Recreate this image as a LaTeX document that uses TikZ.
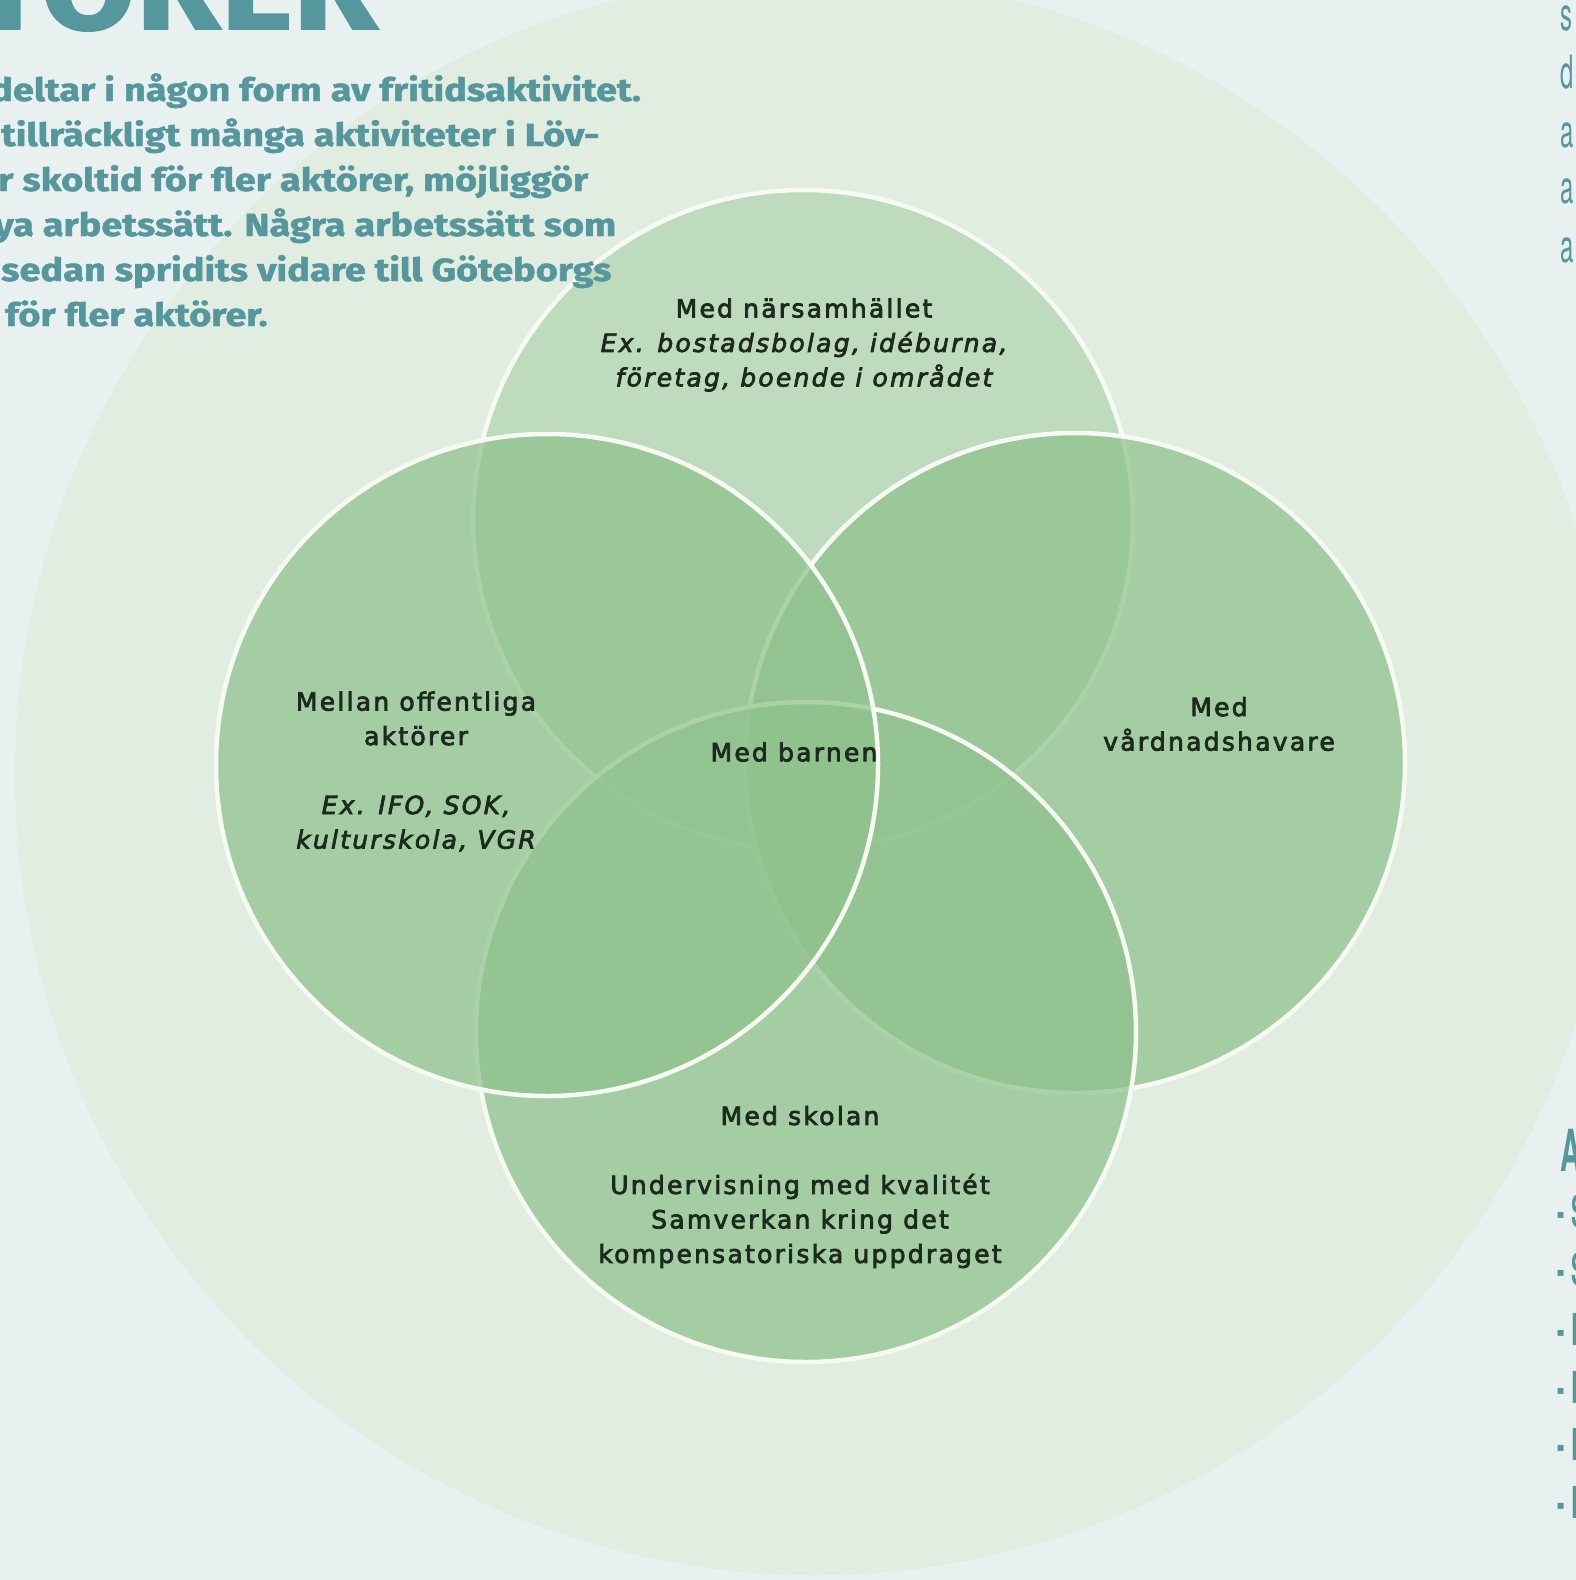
\documentclass[tikz,border=0pt]{standalone}
\usepackage{fontspec}
\setmainfont{DejaVu Sans}
\newfontfamily\circfont[LetterSpace=9,FakeBold=3,ItalicFeatures={FakeBold=3}]{DejaVu Sans}
\newfontfamily\headfont[BoldFeatures={FakeBold=1.4}]{Fira Sans}
\newfontfamily\narrowfont{TeX Gyre Heros}
\definecolor{bgc}{HTML}{E8F0F0}
\definecolor{outerc}{HTML}{E2EDE1}
\definecolor{topc}{HTML}{BFDBBD}
\definecolor{greenc}{HTML}{8FC28D}
\definecolor{edgec}{HTML}{F6FAF3}
\definecolor{txtc}{HTML}{1C2A1E}
\definecolor{tealc}{HTML}{55979C}
\newcommand{\widetext}[1]{\scalebox{1.185}[1]{#1}}
\tikzset{
  vcircle/.style={fill=greenc, fill opacity=0.73, draw=edgec, draw opacity=1, line width=4.5pt},
  ctext/.style={font=\circfont\fontsize{25}{34.5}\selectfont, text=txtc, align=center, inner sep=0pt},
  headline/.style={font=\headfont\bfseries\fontsize{32}{45}\selectfont, text=tealc, anchor=base west, inner sep=0pt},
  edgeletter/.style={text=tealc, anchor=base west, inner sep=0pt},
}
\begin{document}
\begin{tikzpicture}[x=1pt,y=-1pt]
\useasboundingbox (0,0) rectangle (1576,1580);
\clip (0,0) rectangle (1576,1580);
\fill[bgc] (0,0) rectangle (1576,1580);
\fill[outerc] (815,775) circle (800);
% circles, bottom to top
\fill[topc] (803,520) circle (330);
\draw[edgec, line width=4.5pt] (803,520) circle (330);
\path[vcircle] (1075,763) circle (330);
\path[vcircle] (806,1032) circle (330);
\path[vcircle] (547,765) circle (331);
% circle texts
\node[ctext] (tnode) at (804,345) {Med närsamhället\\\itshape Ex. bostadsbolag, idéburna,\\\itshape företag, boende i området};
\node[ctext] (lnode) at (416,771.5) {Mellan offentliga\\aktörer\\[34.5pt]\itshape Ex. IFO, SOK,\\\itshape kulturskola, VGR};
\node[ctext] (cnode) at (794,752) {Med barnen};
\node[ctext] (rnode) at (1219,724) {Med\\vårdnadshavare};
\node[ctext] (bnode) at (800,1187) {Med skolan\\[34.5pt]Undervisning med kvalitét\\Samverkan kring det\\kompensatoriska uppdraget};
% heading text
\node[font=\headfont\bfseries\fontsize{125}{125}\selectfont, text=tealc, anchor=base east, inner sep=0pt] (title) at (378,29) {\scalebox{1.1}[1]{TÖRER}};
\node[headline] (h1) at (-10,101) {\widetext{deltar i någon form av fritidsaktivitet.}};
\node[headline] (h2) at (1,146) {\widetext{tillräckligt många aktiviteter i Löv-}};
\node[headline] (h3) at (-2,191) {\widetext{r skoltid för fler aktörer, möjliggör}};
\node[headline] (h4) at (-6,236) {\widetext{ya arbetssätt. Några arbetssätt som}};
\node[headline] (h5) at (1,281) {\widetext{sedan spridits vidare till Göteborgs}};
\node[headline] (h6) at (5,326) {\widetext{för fler aktörer.}};
% right edge letters
\foreach \y/\t [count=\i] in {30/s,88/d,147/a,203/a,262/a}{
  \node[edgeletter, font=\narrowfont\fontsize{46}{46}\selectfont] (r\i) at (1560,\y) {\scalebox{0.52}[1]{\t}};
}
\node[edgeletter, font=\narrowfont\bfseries\fontsize{58}{58}\selectfont] (ra) at (1560,1171) {\scalebox{0.5}[1]{A}};
\foreach \y/\t [count=\i] in {1227/S,1285/S,1345/L,1403/L,1460/L,1518/L}{
  \node[edgeletter, font=\narrowfont\bfseries\fontsize{44}{44}\selectfont] (li\i) at (1557,\y) {\scalebox{0.5}[1]{-\hspace{0.3em}\t}};
}
\end{tikzpicture}
\end{document}
